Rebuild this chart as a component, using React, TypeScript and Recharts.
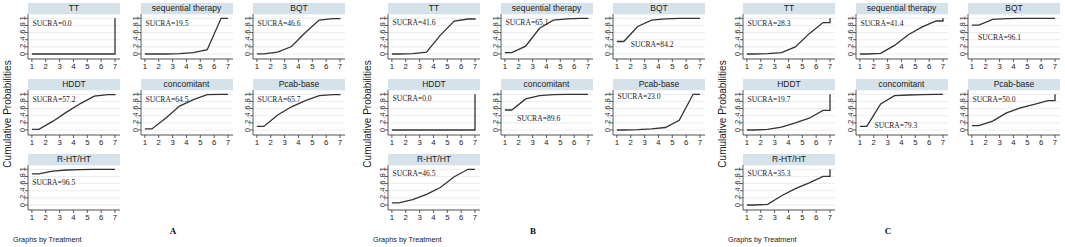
import React from 'react';
import { LineChart, Line, XAxis, YAxis, CartesianGrid, ReferenceDot } from 'recharts';

// ---------- data ----------
const treatments = ['TT', 'sequential therapy', 'BQT', 'HDDT', 'concomitant', 'Pcab-base', 'R-HT/HT'];
const panelLetters = ['A', 'B', 'C'];

// x positions used by the SUCRA step plot (rank 1 drawn at 1..1.5, last step at 7)
const rankX = [1, 1.5, 2.5, 3.5, 4.5, 5.5, 6.5, 7, 7];
const xTicks = [1, 2, 3, 4, 5, 6, 7];
const yTicks = [0, 0.2, 0.4, 0.6, 0.8, 1];
const yTickLabels = ['0', '.2', '.4', '.6', '.8', '1'];

// cumulative probabilities for ranks 1..6 (rank 7 = 1), per treatment
const cumA = [
  [0, 0, 0, 0, 0, 0],
  [0, 0, 0.01, 0.04, 0.12, 1.0],
  [0.005, 0.05, 0.21, 0.6, 0.95, 0.99],
  [0.02, 0.24, 0.5, 0.74, 0.95, 0.99],
  [0.03, 0.33, 0.67, 0.85, 0.99, 1.0],
  [0.1, 0.42, 0.65, 0.82, 0.96, 0.99],
  [0.87, 0.95, 0.98, 0.99, 1.0, 1.0],
];
const cumB = [
  [0, 0.01, 0.05, 0.53, 0.92, 0.98],
  [0.04, 0.22, 0.72, 0.95, 0.985, 0.995],
  [0.35, 0.77, 0.95, 0.985, 0.995, 1.0],
  [0, 0, 0, 0, 0, 0],
  [0.56, 0.87, 0.96, 0.99, 0.995, 1.0],
  [0, 0.01, 0.03, 0.07, 0.27, 1.0],
  [0.06, 0.15, 0.3, 0.49, 0.79, 1.0],
];
const cumC = [
  [0, 0.01, 0.04, 0.2, 0.57, 0.88],
  [0, 0.02, 0.24, 0.54, 0.76, 0.924],
  [0.81, 0.97, 0.99, 0.995, 1.0, 1.0],
  [0, 0.02, 0.08, 0.2, 0.33, 0.55],
  [0.1, 0.73, 0.96, 0.98, 0.99, 1.0],
  [0.12, 0.25, 0.48, 0.62, 0.72, 0.82],
  [0, 0.02, 0.26, 0.46, 0.62, 0.8],
];

const sucraA = ['0.0', '19.5', '46.6', '57.2', '64.5', '65.7', '96.5'];
const sucraB = ['41.6', '65.1', '84.2', '0.0', '89.6', '23.0', '46.5'];
const sucraC = ['28.3', '41.4', '96.1', '19.7', '79.3', '50.0', '35.3'];

// where each SUCRA annotation sits, in data coordinates [rank, probability]
const sucraAtA = [[1.05, 0.85], [1.05, 0.85], [1.05, 0.85], [1.05, 0.85], [1.05, 0.85], [1.05, 0.85], [1.03, 0.64]];
const sucraAtB = [[1.05, 0.9], [1.05, 0.9], [2.0, 0.28], [1.05, 0.88], [1.9, 0.33], [1.05, 0.94], [1.05, 0.9]];
const sucraAtC = [[1.05, 0.85], [1.05, 0.87], [1.45, 0.47], [1.05, 0.87], [2.05, 0.14], [1.05, 0.87], [1.05, 0.89]];

const panels = [
  { cum: cumA, sucra: sucraA, at: sucraAtA },
  { cum: cumB, sucra: sucraB, at: sucraAtB },
  { cum: cumC, sucra: sucraC, at: sucraAtC },
];

// ---------- styles / layout ----------
const SANS = "'Liberation Sans', Arial, Helvetica, sans-serif";
const SERIF = "'Liberation Serif', 'Times New Roman', serif";
const HEADER_BG = '#d6e2e9';
const LINE = '#333333';
const AXIS = '#333333';
const GRID = '#e4e9eb';

const panelOffsets = [0, 360, 715];
const colLefts = [28, 140.5, 253];
const rowTops = [3, 78.5, 154];
const PLOT_W = 92;
const PLOT_H = 45;
const HEADER_H = 11;
const YAXIS_W = 14;
const XAXIS_H = 14;

function buildSeries(c: number[]) {
  return rankX.map((x, i) => ({
    x,
    y: i === 0 ? c[0] : i <= 6 ? c[i - 1] : i === 7 ? c[5] : 1,
  }));
}

const YTick = (props: any) => {
  const { x, y, payload } = props;
  let idx = 0;
  let best = 1e9;
  yTicks.forEach((t, i) => {
    const d = Math.abs(t - payload.value);
    if (d < best) {
      best = d;
      idx = i;
    }
  });
  return (
    <text
      x={x}
      y={y}
      transform={`rotate(-90 ${x} ${y})`}
      textAnchor="middle"
      fontSize={7.8}
      fill="#222"
      fontFamily={SANS}
    >
      {yTickLabels[idx]}
    </text>
  );
};

function Cell(props: { name: string; cum: number[]; sucra: string; at: number[]; left: number; top: number }) {
  const { name, cum, sucra, at, left, top } = props;
  const data = buildSeries(cum);
  return (
    <div style={{ position: 'absolute', left: left - YAXIS_W, top, width: YAXIS_W + PLOT_W, height: HEADER_H + PLOT_H + XAXIS_H }}>
      <div
        style={{
          position: 'absolute',
          left: YAXIS_W,
          top: 0,
          width: PLOT_W,
          height: HEADER_H,
          background: HEADER_BG,
          fontFamily: SANS,
          fontSize: 8.5,
          lineHeight: `${HEADER_H}px`,
          textAlign: 'center',
          color: '#1a1a1a',
          whiteSpace: 'nowrap',
        }}
      >
        {name}
      </div>
      <div style={{ position: 'absolute', left: 0, top: HEADER_H }}>
        <LineChart
          width={YAXIS_W + PLOT_W}
          height={PLOT_H + XAXIS_H}
          data={data}
          margin={{ top: 0, right: 0, bottom: 0, left: 0 }}
        >
          <CartesianGrid vertical={false} stroke={GRID} strokeWidth={0.8} />
          <XAxis
            dataKey="x"
            type="number"
            domain={[0.72, 7.36]}
            ticks={xTicks}
            interval={0}
            height={XAXIS_H}
            tickSize={3}
            tickMargin={1}
            axisLine={{ stroke: AXIS, strokeWidth: 0.8 }}
            tickLine={{ stroke: AXIS, strokeWidth: 0.8 }}
            tick={{ fontSize: 7.8, fill: '#222', fontFamily: SANS }}
          />
          <YAxis
            type="number"
            domain={[-0.14, 1.12]}
            ticks={yTicks}
            interval={0}
            width={YAXIS_W}
            tickSize={3}
            tickMargin={0}
            axisLine={{ stroke: AXIS, strokeWidth: 0.8 }}
            tickLine={{ stroke: AXIS, strokeWidth: 0.8 }}
            tick={<YTick />}
          />
          <Line
            dataKey="y"
            type="linear"
            stroke={LINE}
            strokeWidth={1.3}
            dot={false}
            activeDot={false}
            isAnimationActive={false}
          />
          <ReferenceDot
            x={at[0]}
            y={at[1]}
            r={0}
            fill="none"
            stroke="none"
            label={{
              value: `SUCRA=${sucra}`,
              position: 'right',
              offset: 0,
              fontSize: 7.6,
              fontFamily: SERIF,
              fill: '#222',
            }}
          />
        </LineChart>
      </div>
    </div>
  );
}

export default function App() {
  return (
    <div style={{ position: 'absolute', left: 0, top: 0, width: 1065, height: 247, background: '#fff', overflow: 'hidden' }}>
      {panels.map((p, pi) => {
        const off = panelOffsets[pi];
        return (
          <React.Fragment key={pi}>
            {treatments.map((t, ti) => (
              <Cell
                key={t}
                name={t}
                cum={p.cum[ti]}
                sucra={p.sucra[ti]}
                at={p.at[ti]}
                left={off + colLefts[ti % 3]}
                top={rowTops[Math.floor(ti / 3)]}
              />
            ))}
            <div
              style={{
                position: 'absolute',
                left: off + 7,
                top: 114,
                transform: 'translate(-50%, -50%) rotate(-90deg)',
                whiteSpace: 'nowrap',
                fontFamily: SANS,
                fontSize: 10,
                color: '#1a1a1a',
              }}
            >
              Cumulative Probabilities
            </div>
            <div
              style={{
                position: 'absolute',
                left: off + 13,
                top: 235,
                whiteSpace: 'nowrap',
                fontFamily: SANS,
                fontSize: 7.3,
                lineHeight: '10px',
                color: '#1a1a1a',
              }}
            >
              Graphs by Treatment
            </div>
            <div
              style={{
                position: 'absolute',
                left: off + 173,
                top: 231,
                transform: 'translate(-50%, -50%)',
                fontFamily: SERIF,
                fontWeight: 'bold',
                fontSize: 9,
                color: '#111',
              }}
            >
              {panelLetters[pi]}
            </div>
          </React.Fragment>
        );
      })}
    </div>
  );
}
